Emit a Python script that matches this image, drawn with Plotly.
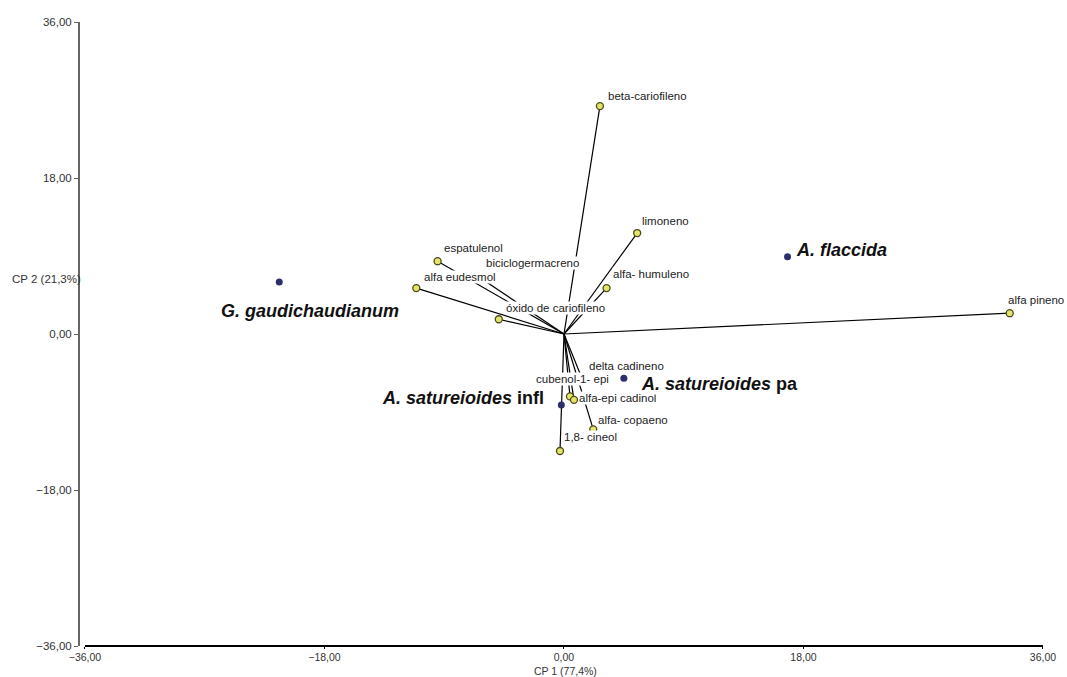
import plotly.graph_objects as go

# Variables (loadings)
var_names = ["beta-cariofileno", "limoneno", "alfa- humuleno", "alfa pineno",
             "espatulenol", "alfa eudesmol", "biciclogermacreno", "óxido de cariofileno",
             "delta cadineno", "cubenol-1- epi", "alfa-epi cadinol", "alfa- copaeno",
             "1,8- cineol"]
var_x = [2.7, 5.5, 3.2, 33.5, -9.5, -11.1, -6.5, -4.9, 1.35, 0.45, 0.75, 2.2, -0.3]
var_y = [26.3, 11.65, 5.3, 2.4, 8.4, 5.3, 6.7, 1.7, -5.1, -7.2, -7.6, -11.0, -13.5]

# Samples (scores)
sample_names = ["<b><i>G. gaudichaudianum</i></b>", "<b><i>A. flaccida</i></b>",
                "<b><i>A. satureioides</i> pa</b>", "<b><i>A. satureioides</i> infl</b>"]
sample_x = [-21.4, 16.8, 4.5, -0.2]
sample_y = [6.0, 8.9, -5.1, -8.2]

tick_vals = [-36, -18, 0, 18, 36]
x_title = "CP 1 (77,4%)"
y_title = "CP 2 (21,3%)"

# label offsets in pixels (style only)
var_shift = [(7, 10), (4, 12), (5, 14), (-3, 13), (5, 13), (7, 11), (8, 13), (6, 11),
             (6, 12), (-35, 17), (4, 2), (4, 9), (3, 14)]
sample_shift = [(-59, -29, "left"), (7, 7, "left"), (16, -6, "left"), (-16, 7, "right")]

FONT = "Liberation Sans, Arial, sans-serif"

fig = go.Figure()

# vectors from origin
lx, ly = [], []
for x, y in zip(var_x, var_y):
    lx += [0, x, None]
    ly += [0, y, None]
fig.add_trace(go.Scatter(x=lx, y=ly, mode="lines", line=dict(color="black", width=1.2),
                         hoverinfo="skip", showlegend=False))

fig.add_trace(go.Scatter(x=var_x, y=var_y, mode="markers",
                         marker=dict(size=7, color="#e4e468", line=dict(color="#4a4a1a", width=1.3)),
                         text=var_names, showlegend=False))

fig.add_trace(go.Scatter(x=sample_x, y=sample_y, mode="markers",
                         marker=dict(size=7, color="#2b2f6b", line=dict(width=0)),
                         showlegend=False))

annotations = []
for name, x, y, (dx, dy) in zip(var_names, var_x, var_y, var_shift):
    annotations.append(dict(x=x, y=y, xref="x", yref="y", text=name, showarrow=False,
                            xanchor="left", yanchor="middle", xshift=dx, yshift=dy,
                            bgcolor="white", borderpad=0,
                            font=dict(family=FONT, size=11.5, color="#222222")))
for name, x, y, (dx, dy, anc) in zip(sample_names, sample_x, sample_y, sample_shift):
    annotations.append(dict(x=x, y=y, xref="x", yref="y", text=name, showarrow=False,
                            xanchor=anc, yanchor="middle", xshift=dx, yshift=dy,
                            bgcolor="white", borderpad=0,
                            font=dict(family=FONT, size=18, color="#111111")))

annotations.append(dict(x=0.505, y=-0.052, xref="paper", yref="paper", text=x_title,
                        showarrow=False, xanchor="center", yanchor="bottom", borderpad=0,
                        font=dict(family=FONT, size=10.5, color="#333333")))
annotations.append(dict(x=-0.072, y=0.588, xref="paper", yref="paper", text=y_title,
                        showarrow=False, xanchor="left", yanchor="middle",
                        font=dict(family=FONT, size=11.5, color="#333333")))

fig.update_layout(
    width=1067, height=677,
    margin=dict(l=79, r=24, t=22, b=31),
    paper_bgcolor="white", plot_bgcolor="white",
    font=dict(family=FONT),
    annotations=annotations,
    xaxis=dict(range=[-36, 36], domain=[0.0062, 1], anchor="free", position=0,
               tickvals=tick_vals, tickformat=".2f", showgrid=False, zeroline=False,
               showline=True, linecolor="black", linewidth=1.5,
               ticks="outside", ticklen=2, tickcolor="black",
               tickfont=dict(family=FONT, size=10.5, color="#333333")),
    yaxis=dict(range=[-36, 36], domain=[0.0, 1], anchor="free", position=0,
               tickvals=tick_vals, tickformat=".2f", showgrid=False, zeroline=False,
               showline=True, linecolor="#666666", linewidth=2,
               ticks="outside", ticklen=4, tickcolor="#666666",
               tickfont=dict(family=FONT, size=11.5, color="#333333")),
    separators=",.",
)

fig.write_html("out.html")
